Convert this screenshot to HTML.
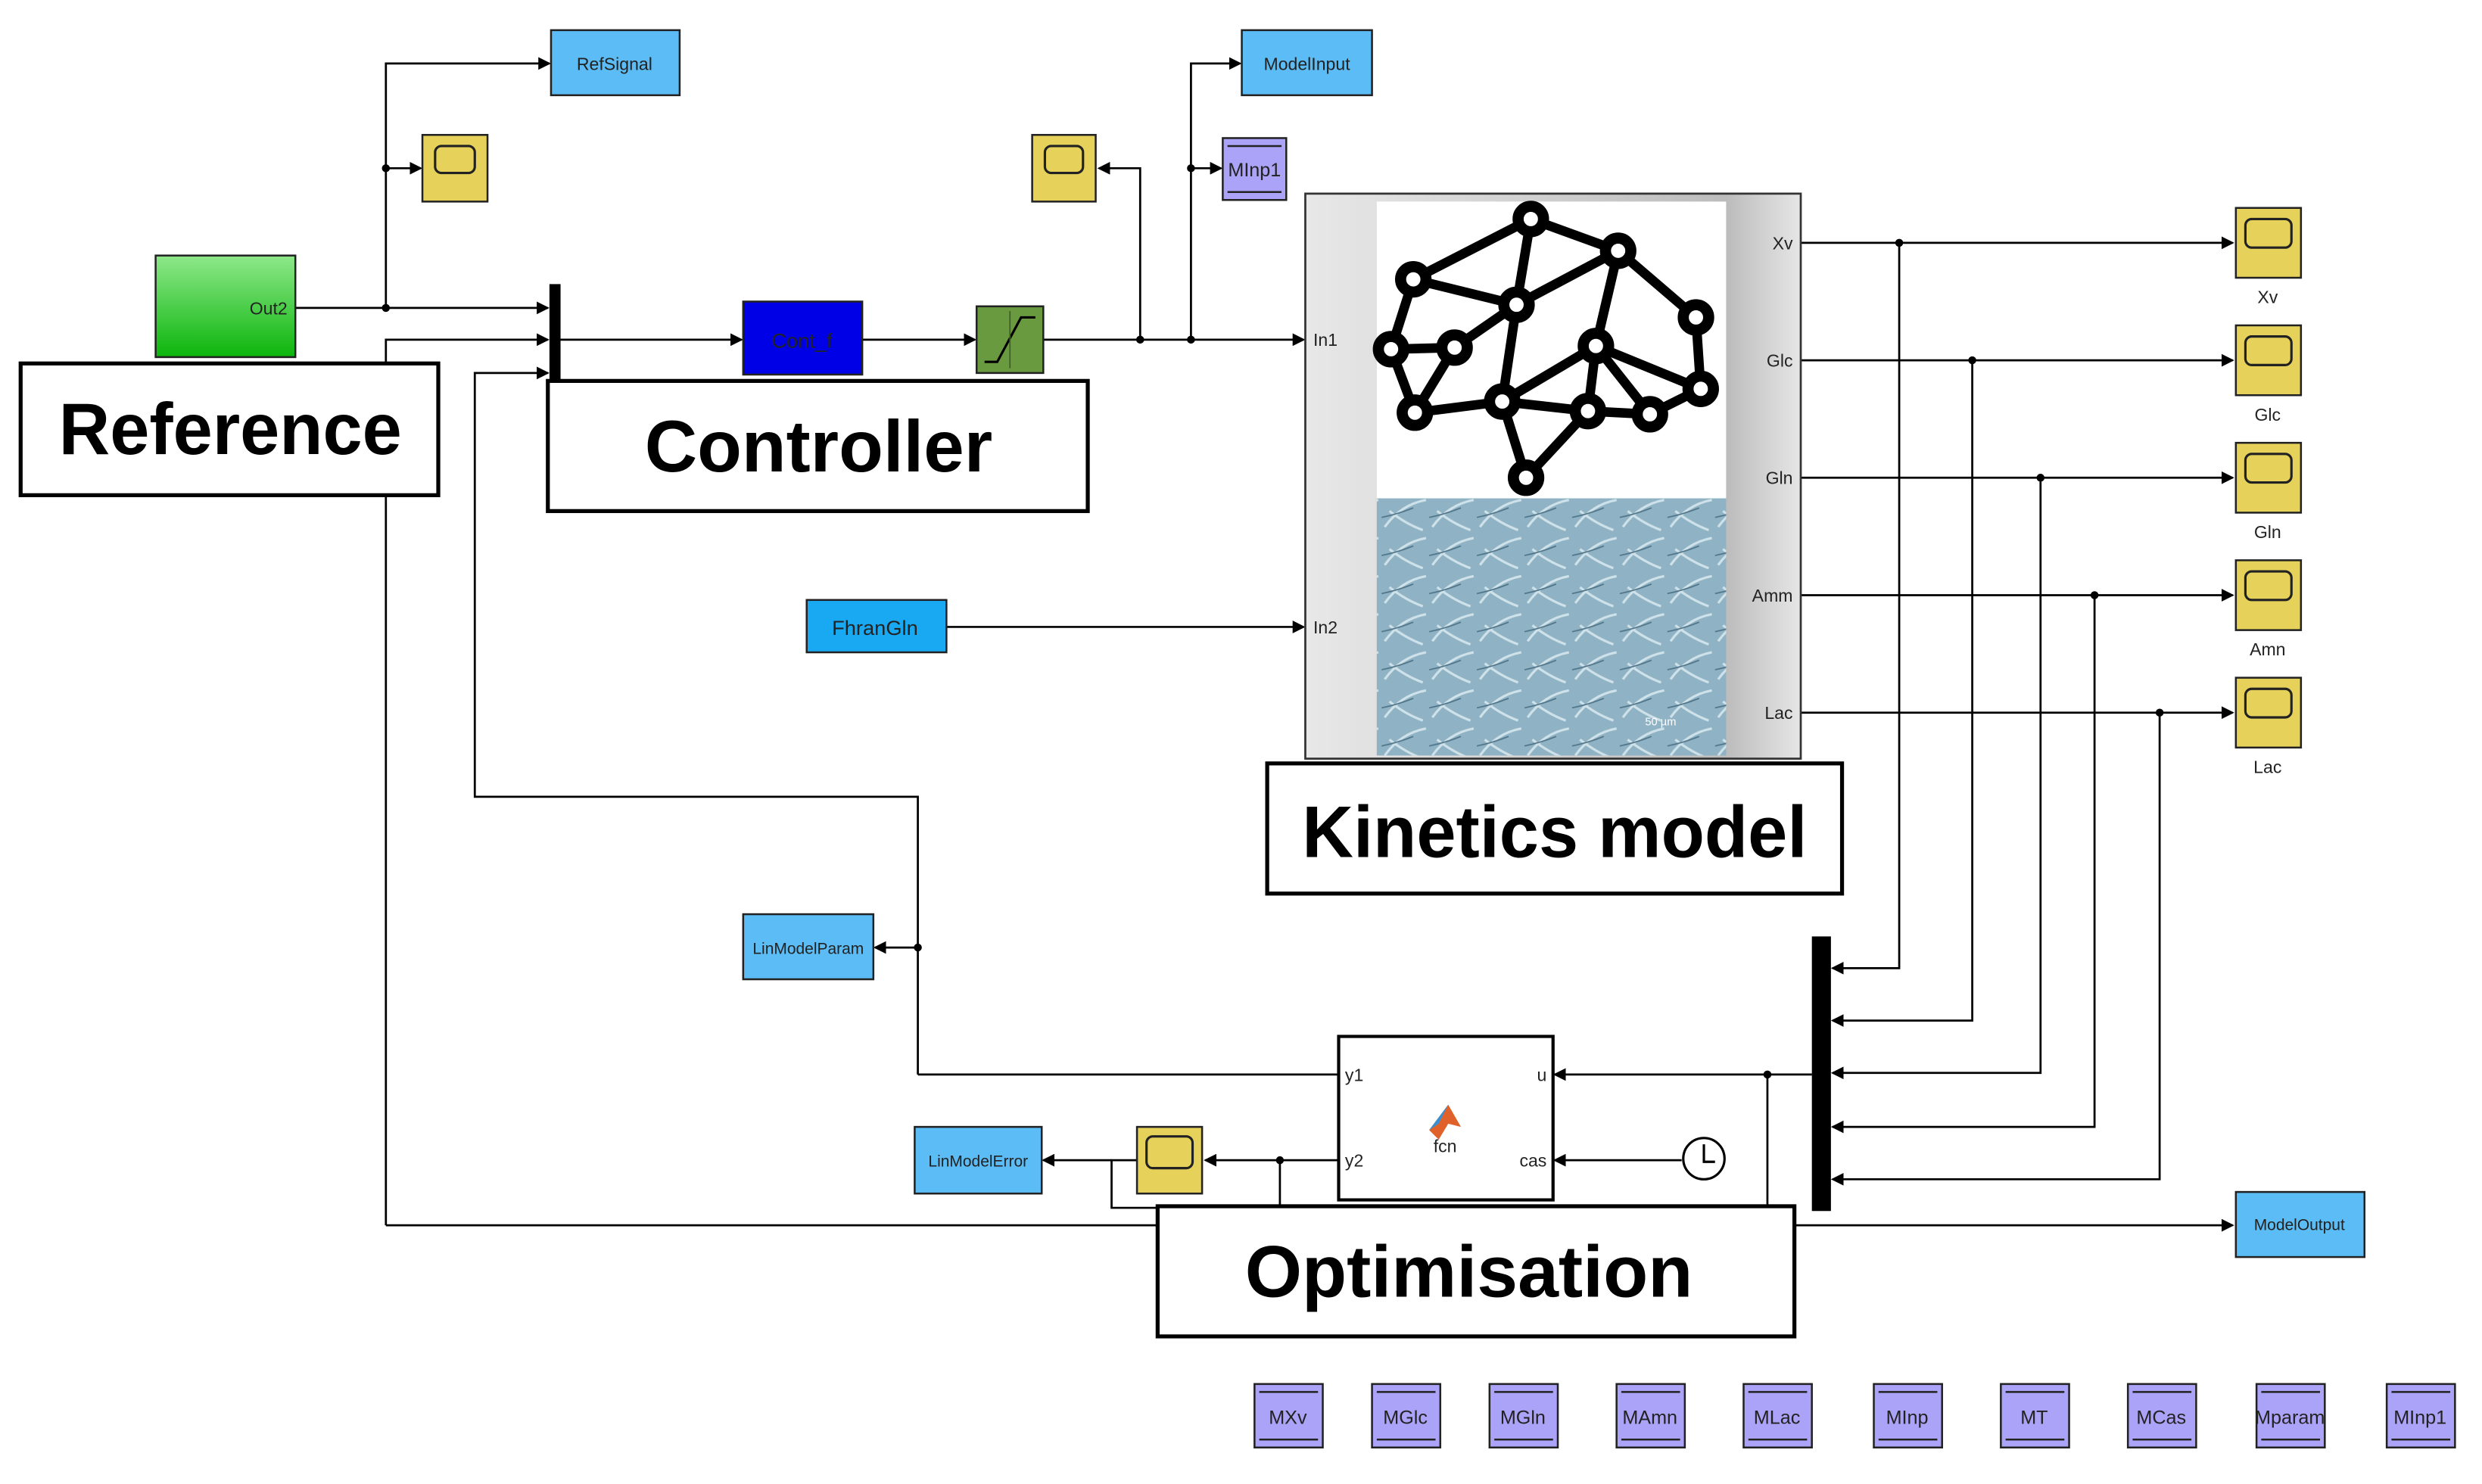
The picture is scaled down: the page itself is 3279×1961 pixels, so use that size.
<!DOCTYPE html>
<html><head><meta charset="utf-8"><style>
html,body{margin:0;padding:0;background:#fff;}
svg{display:block;}
.s{font-family:"Liberation Sans",sans-serif;font-size:11px;fill:#222;}
.b{font-family:"Liberation Sans",sans-serif;font-weight:bold;fill:#000;}
</style></head><body>
<svg width="3279" height="1961" viewBox="0 0 1563 935" preserveAspectRatio="none" xmlns="http://www.w3.org/2000/svg">
<defs>
<marker id="a" markerWidth="8" markerHeight="8" refX="7" refY="4" orient="auto" markerUnits="userSpaceOnUse"><path d="M0,0 L8,4 L0,8 Z" fill="#000"/></marker>
<linearGradient id="g" x1="0" y1="0" x2="0" y2="1"><stop offset="0" stop-color="#8ee88a"/><stop offset="1" stop-color="#0cb50c"/></linearGradient>
<linearGradient id="k" x1="0" y1="0" x2="1" y2="0"><stop offset="0" stop-color="#e8e8e8"/><stop offset="0.85" stop-color="#bcbcbc"/><stop offset="1" stop-color="#e6e6e6"/></linearGradient>
<pattern id="cells" width="30" height="24" patternUnits="userSpaceOnUse"><rect width="30" height="24" fill="#8fb3c4"/><path d="M2,20 Q12,6 28,3 M5,10 Q15,18 26,22" stroke="#cfe2ea" stroke-width="1.5" fill="none"/><path d="M0,14 Q10,12 20,8" stroke="#4f7387" stroke-width="0.8" fill="none"/></pattern>
</defs>
<g stroke="#000" stroke-width="1.3" fill="none">
<path d="M186,194 H345" marker-end="url(#a)"/>
<path d="M243,194 V40 H346" marker-end="url(#a)"/>
<path d="M243,106 H265" marker-end="url(#a)"/>
<path d="M243,772 V214 H345" marker-end="url(#a)"/>
<path d="M243,772 H1406" marker-end="url(#a)"/>
<path d="M578,677 H843"/>
<path d="M578,677 V502 H299 V235 H345" marker-end="url(#a)"/>
<path d="M578,597 H551" marker-end="url(#a)"/>
<path d="M353,214 H467" marker-end="url(#a)"/>
<path d="M543,214 H614" marker-end="url(#a)"/>
<path d="M657,214 H821" marker-end="url(#a)"/>
<path d="M718,214 V106 H692" marker-end="url(#a)"/>
<path d="M750,214 V40 H781" marker-end="url(#a)"/>
<path d="M750,106 H769" marker-end="url(#a)"/>
<path d="M596,395 H821" marker-end="url(#a)"/>
<path d="M1134,153 H1406" marker-end="url(#a)"/>
<path d="M1134,227 H1406" marker-end="url(#a)"/>
<path d="M1134,301 H1406" marker-end="url(#a)"/>
<path d="M1134,375 H1406" marker-end="url(#a)"/>
<path d="M1134,449 H1406" marker-end="url(#a)"/>
<path d="M1196,153 V610 H1154" marker-end="url(#a)"/>
<path d="M1242,227 V643 H1154" marker-end="url(#a)"/>
<path d="M1285,301 V676 H1154" marker-end="url(#a)"/>
<path d="M1319,375 V710 H1154" marker-end="url(#a)"/>
<path d="M1360,449 V743 H1154" marker-end="url(#a)"/>
<path d="M1141,677 H979" marker-end="url(#a)"/>
<path d="M1113,677 V762"/>
<path d="M1059,731 H979" marker-end="url(#a)"/>
<path d="M843,731 H759" marker-end="url(#a)"/>
<path d="M806,731 V762"/>
<path d="M716,731 H700 V761 H730"/>
<path d="M700,731 H657" marker-end="url(#a)"/>
</g>
<g fill="#000">
<circle cx="243" cy="194" r="2.5"/><circle cx="243" cy="106" r="2.5"/><circle cx="578" cy="597" r="2.5"/>
<circle cx="718" cy="214" r="2.5"/><circle cx="750" cy="214" r="2.5"/><circle cx="750" cy="106" r="2.5"/>
<circle cx="1196" cy="153" r="2.5"/><circle cx="1242" cy="227" r="2.5"/><circle cx="1285" cy="301" r="2.5"/><circle cx="1319" cy="375" r="2.5"/><circle cx="1360" cy="449" r="2.5"/>
<circle cx="1113" cy="677" r="2.5"/><circle cx="806" cy="731" r="2.5"/>
<rect x="346" y="179" width="7" height="61"/>
<rect x="1141" y="590" width="12" height="173"/>
</g>
<g stroke="#222" stroke-width="1.2">
<rect x="347" y="19" width="81" height="41" fill="#5cbcf5"/>
<rect x="782" y="19" width="82" height="41" fill="#5cbcf5"/>
<rect x="98" y="161" width="88" height="64" fill="url(#g)"/>
<rect x="468" y="190" width="75" height="46" fill="#0000e6"/>
<rect x="615" y="193" width="42" height="42" fill="#6a9a40"/>
<rect x="508" y="378" width="88" height="33" fill="#19a9f2"/>
<rect x="468" y="576" width="82" height="41" fill="#5cbcf5"/>
<rect x="576" y="710" width="80" height="42" fill="#5cbcf5"/>
<rect x="1408" y="751" width="81" height="41" fill="#5cbcf5"/>
<rect x="770" y="87" width="40" height="39" fill="#aba3f7"/>
</g>
<path d="M620,228 H628 L643,200 H652" stroke="#000" stroke-width="1.5" fill="none"/>
<line x1="636" y1="196" x2="636" y2="232" stroke="#3d5e22" stroke-width="0.8"/>
<line x1="773" y1="92" x2="807" y2="92" stroke="#222" stroke-width="1.2"/><line x1="773" y1="121" x2="807" y2="121" stroke="#222" stroke-width="1.2"/>
<g stroke="#222" stroke-width="1.2">
<rect x="266" y="85" width="41" height="42" fill="#e6d25a"/><rect x="274" y="92" width="25" height="17" rx="4" fill="#e6d25a" stroke-width="1.5"/>
<rect x="650" y="85" width="40" height="42" fill="#e6d25a"/><rect x="658" y="92" width="24" height="17" rx="4" fill="#e6d25a" stroke-width="1.5"/>
<rect x="716" y="710" width="41" height="42" fill="#e6d25a"/><rect x="722" y="716" width="29" height="20" rx="4" fill="#e6d25a" stroke-width="1.5"/>
<rect x="1408" y="131" width="41" height="44" fill="#e6d25a"/><rect x="1414" y="138" width="29" height="18" rx="4" fill="#e6d25a" stroke-width="1.5"/>
<rect x="1408" y="205" width="41" height="44" fill="#e6d25a"/><rect x="1414" y="212" width="29" height="18" rx="4" fill="#e6d25a" stroke-width="1.5"/>
<rect x="1408" y="279" width="41" height="44" fill="#e6d25a"/><rect x="1414" y="286" width="29" height="18" rx="4" fill="#e6d25a" stroke-width="1.5"/>
<rect x="1408" y="353" width="41" height="44" fill="#e6d25a"/><rect x="1414" y="360" width="29" height="18" rx="4" fill="#e6d25a" stroke-width="1.5"/>
<rect x="1408" y="427" width="41" height="44" fill="#e6d25a"/><rect x="1414" y="434" width="29" height="18" rx="4" fill="#e6d25a" stroke-width="1.5"/>
</g>
<rect x="822" y="122" width="312" height="356" fill="url(#k)" stroke="#333" stroke-width="1.3"/>
<rect x="867" y="127" width="220" height="187" fill="#fff"/>
<rect x="867" y="314" width="220" height="162" fill="url(#cells)"/>
<text x="1036" y="457" class="s" style="font-size:7px;fill:#fff">50 µm</text>
<g stroke="#000" stroke-width="6">
<path d="M964,138L1019,158M964,138L890,176M964,138L955,192M1019,158L955,192M1019,158L1005,218M1019,158L1068,200M890,176L955,192M890,176L876,220M955,192L916,219M955,192L946,253M876,220L916,219M876,220L891,260M916,219L891,260M1005,218L946,253M1005,218L1000,259M1005,218L1071,245M1005,218L1039,261M1068,200L1071,245M1071,245L1039,261M891,260L946,253M946,253L1000,259M946,253L961,301M1000,259L961,301M1000,259L1039,261"/>
</g>
<g fill="#fff" stroke="#000" stroke-width="7">
<circle cx="964" cy="138" r="8"/><circle cx="1019" cy="158" r="8"/><circle cx="890" cy="176" r="8"/><circle cx="955" cy="192" r="8"/><circle cx="1068" cy="200" r="8"/><circle cx="876" cy="220" r="8"/><circle cx="916" cy="219" r="8"/><circle cx="1005" cy="218" r="8"/><circle cx="1071" cy="245" r="8"/><circle cx="891" cy="260" r="8"/><circle cx="946" cy="253" r="8"/><circle cx="1000" cy="259" r="8"/><circle cx="1039" cy="261" r="8"/><circle cx="961" cy="301" r="8"/>
</g>
<rect x="843" y="653" width="135" height="103" fill="#fff" stroke="#000" stroke-width="2"/>
<path d="M900,712 L912,696 L920,710 L912,708 L906,718 Z" fill="#e0622a"/><path d="M900,712 L912,696 L906,708 Z" fill="#3a8fd0"/>
<circle cx="1073" cy="730" r="13" fill="#fff" stroke="#000" stroke-width="1.5"/>
<path d="M1073,721 V732 H1080" stroke="#000" stroke-width="1.5" fill="none"/>
<g stroke="#222" stroke-width="1.2" fill="#aba3f7">
<rect x="790" y="872" width="43" height="40"/><rect x="864" y="872" width="43" height="40"/><rect x="938" y="872" width="43" height="40"/><rect x="1018" y="872" width="43" height="40"/><rect x="1098" y="872" width="43" height="40"/><rect x="1180" y="872" width="43" height="40"/><rect x="1260" y="872" width="43" height="40"/><rect x="1340" y="872" width="43" height="40"/><rect x="1421" y="872" width="43" height="40"/><rect x="1503" y="872" width="43" height="40"/>
</g>
<g stroke="#222" stroke-width="1.2">
<path d="M793,877h37M793,907h37M867,877h37M867,907h37M941,877h37M941,907h37M1021,877h37M1021,907h37M1101,877h37M1101,907h37M1183,877h37M1183,907h37M1263,877h37M1263,907h37M1343,877h37M1343,907h37M1424,877h37M1424,907h37M1506,877h37M1506,907h37"/>
</g>
<g class="s" text-anchor="middle">
<text x="387" y="44">RefSignal</text>
<text x="823" y="44">ModelInput</text>
<text x="790" y="111" style="font-size:12px">MInp1</text>
<text x="181" y="198" text-anchor="end" style="font-size:11px">Out2</text>
<text x="505" y="219" style="font-size:13px">Cont_f</text>
<text x="551" y="400" style="font-size:13px">FhranGln</text>
<text x="509" y="601" style="font-size:10px">LinModelParam</text>
<text x="616" y="735" style="font-size:10px">LinModelError</text>
<text x="1448" y="775" style="font-size:10px">ModelOutput</text>
<text x="1428" y="191">Xv</text><text x="1428" y="265">Glc</text><text x="1428" y="339">Gln</text><text x="1428" y="413">Amn</text><text x="1428" y="487">Lac</text>
<text x="910" y="726">fcn</text>
<text x="811" y="897" style="font-size:12px">MXv</text><text x="885" y="897" style="font-size:12px">MGlc</text><text x="959" y="897" style="font-size:12px">MGln</text><text x="1039" y="897" style="font-size:12px">MAmn</text><text x="1119" y="897" style="font-size:12px">MLac</text><text x="1201" y="897" style="font-size:12px">MInp</text><text x="1281" y="897" style="font-size:12px">MT</text><text x="1361" y="897" style="font-size:12px">MCas</text><text x="1442" y="897" style="font-size:12px">Mparam</text><text x="1524" y="897" style="font-size:12px">MInp1</text>
</g>
<g class="s">
<text x="827" y="218">In1</text><text x="827" y="399">In2</text>
<text x="1129" y="157" text-anchor="end">Xv</text><text x="1129" y="231" text-anchor="end">Glc</text><text x="1129" y="305" text-anchor="end">Gln</text><text x="1129" y="379" text-anchor="end">Amm</text><text x="1129" y="453" text-anchor="end">Lac</text>
<text x="847" y="681">y1</text><text x="847" y="735">y2</text>
<text x="974" y="681" text-anchor="end">u</text><text x="974" y="735" text-anchor="end">cas</text>
</g>
<g fill="#fff" stroke="#000" stroke-width="2.5">
<rect x="13" y="229" width="263" height="83"/>
<rect x="345" y="240" width="340" height="82"/>
<rect x="798" y="481" width="362" height="82"/>
<rect x="729" y="760" width="401" height="82"/>
</g>
<g class="b" style="font-size:46px">
<text x="37" y="286" textLength="216" lengthAdjust="spacingAndGlyphs">Reference</text>
<text x="406" y="297" textLength="219" lengthAdjust="spacingAndGlyphs">Controller</text>
<text x="820" y="540" textLength="318" lengthAdjust="spacingAndGlyphs">Kinetics model</text>
<text x="784" y="817" textLength="282" lengthAdjust="spacingAndGlyphs">Optimisation</text>
</g>
</svg>
</body></html>
